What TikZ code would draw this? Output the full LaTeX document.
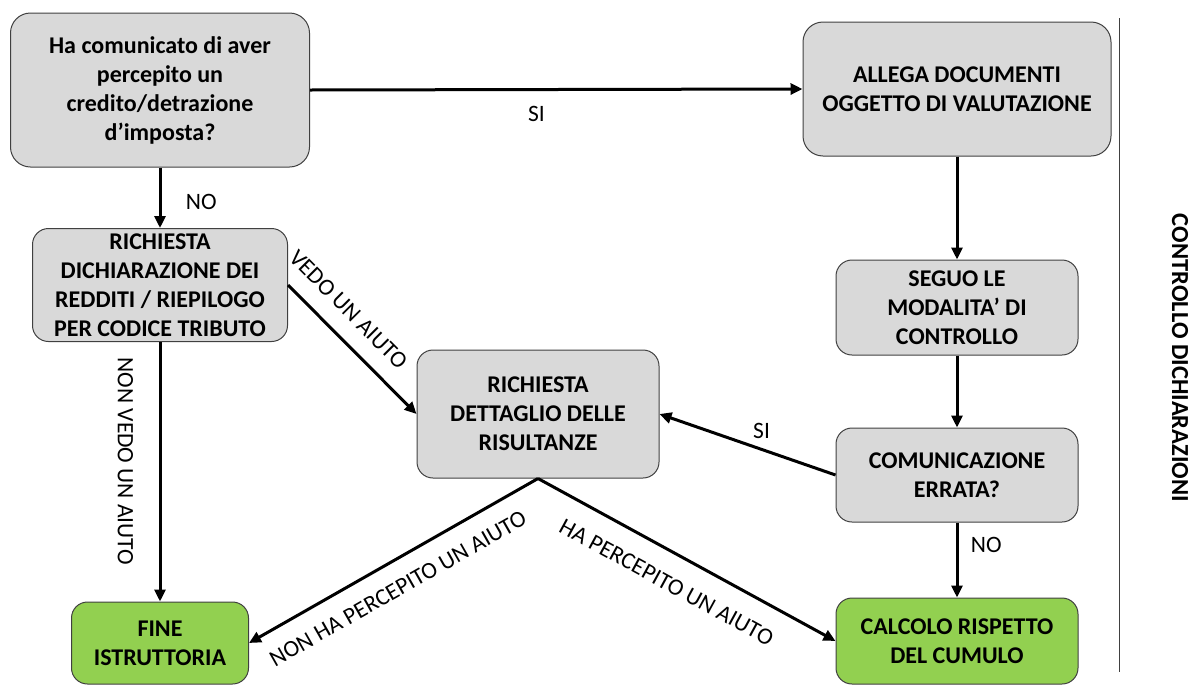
\documentclass[tikz,border=0pt]{standalone}
\usepackage{fontspec}
\setmainfont{Carlito}
\usetikzlibrary{arrows.meta}

\definecolor{boxgray}{HTML}{D9D9D9}
\definecolor{boxgreen}{HTML}{92D050}
\definecolor{boxline}{HTML}{404040}

\begin{document}
\begin{tikzpicture}
[ x=1pt, y=-1pt
, stepbox/.style={rectangle, rounded corners=16pt, draw=boxline, line width=1pt, fill=boxgray, align=center, inner sep=0pt, font=\fontsize{24}{29}\selectfont\bfseries}
, endbox/.style={stepbox, fill=boxgreen}
, flow/.style={line width=3pt, -{Triangle[length=12pt,width=11pt]}}
, lbl/.style={font=\fontsize{23.5}{28}\selectfont}
]
\useasboundingbox (0,0) rectangle (1194,686);

% colonna sinistra
\node (ask) [stepbox, minimum width=299pt, minimum height=154pt, rounded corners=20pt] at (160,90) {Ha comunicato di aver\\percepito un\\credito/detrazione\\d'imposta?};
\node (decl) [stepbox, minimum width=255pt, minimum height=113pt] at (160,285) {RICHIESTA\\DICHIARAZIONE DEI\\REDDITI / RIEPILOGO\\PER CODICE TRIBUTO};
\node (close) [endbox, minimum width=177pt, minimum height=82pt] at (160,643) {FINE\\ISTRUTTORIA};

% centro
\node (detail) [stepbox, minimum width=242pt, minimum height=128pt] at (538,414) {RICHIESTA\\DETTAGLIO DELLE\\RISULTANZE};

% colonna destra
\node (docs) [stepbox, minimum width=308pt, minimum height=134pt, rounded corners=20pt] at (957,89) {ALLEGA DOCUMENTI\\OGGETTO DI VALUTAZIONE};
\node (modes) [stepbox, minimum width=242pt, minimum height=95pt] at (957,307.5) {SEGUO LE\\MODALITA' DI\\CONTROLLO};
\node (wrong) [stepbox, minimum width=242pt, minimum height=94pt] at (957,475) {COMUNICAZIONE\\ERRATA?};
\node (cumul) [endbox, minimum width=242pt, minimum height=86pt] at (957,641) {CALCOLO RISPETTO\\DEL CUMULO};

% titolo a destra
\draw [boxline, line width=1pt] (1119,18) -- (1119,672);
\node (title) [rotate=-90, font=\fontsize{24.5}{29}\selectfont\bfseries] at (1180,358) {CONTROLLO DICHIARAZIONI};

% frecce
\draw [flow] (ask.east) -- node[lbl, pos=0.46, below=12pt] {SI} (docs.west);
\draw [flow] (ask) -- node[lbl, pos=0.57, right=21pt] {NO} (decl);
\draw [flow] (decl.east) -- node[lbl, pos=0.33, sloped, above=13pt] {VEDO UN AIUTO} (detail.west);
\draw [flow] (decl) -- node[lbl, pos=0.46, sloped, below=22pt] {NON VEDO UN AIUTO} (close);
\draw [flow] (docs) -- (modes);
\draw [flow] (modes) -- (wrong);
\draw [flow] (wrong.west) -- node[lbl, pos=0.42, above=6pt] {SI} (detail.east);
\draw [flow] (wrong) -- node[lbl, pos=0.3, right=9pt] {NO} (cumul);
\draw [flow] (detail.south) -- node[lbl, pos=0.53, sloped, below=14pt] {NON HA PERCEPITO UN AIUTO} (close.east);
\draw [flow] (detail.south) -- node[lbl, pos=0.48, sloped, below=17pt] {HA PERCEPITO UN AIUTO} (cumul.west);
\end{tikzpicture}
\end{document}
